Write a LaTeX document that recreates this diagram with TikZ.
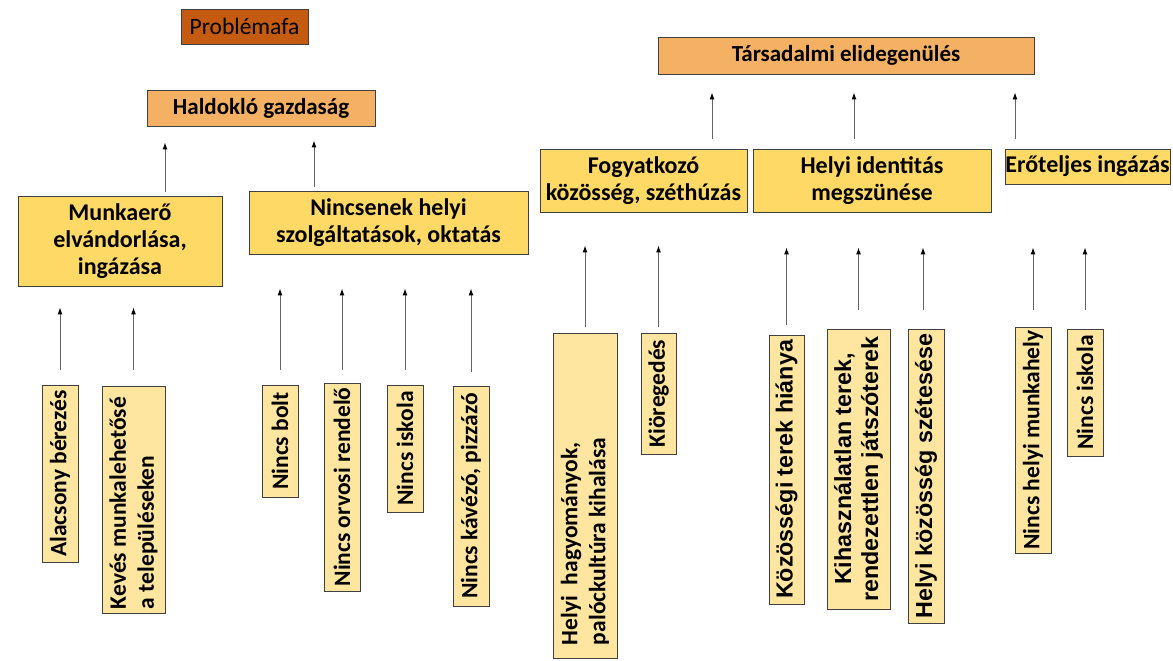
\documentclass[tikz,border=0pt]{standalone}
\usepackage{fontspec}
\setmainfont{Carlito}
\newfontfamily\arialfont{Liberation Sans}
\usetikzlibrary{arrows.meta}
\definecolor{pfbrown}{RGB}{197,90,17}
\definecolor{pforange}{RGB}{244,177,99}
\definecolor{pfgold}{RGB}{255,217,102}
\definecolor{pfcream}{RGB}{255,230,160}
\definecolor{pfedge}{RGB}{64,64,64}
\definecolor{pfline}{RGB}{100,100,100}

\begin{document}
\begin{tikzpicture}[x=1pt,y=-1pt,
  box/.style={draw=pfedge,line width=0.9pt,inner sep=0pt,align=center,
    font=\fontsize{24}{27}\selectfont\bfseries},
  titlebox/.style={box,fill=pfbrown,font=\fontsize{23.5}{26}\selectfont},
  topbox/.style={box,fill=pforange,font=\fontsize{23}{26}\selectfont\bfseries},
  midbox/.style={box,fill=pfgold},
  leafbox/.style={box,fill=pfcream,rotate=90,font=\fontsize{23.5}{28}\selectfont\bfseries},
  arialleaf/.style={leafbox,font=\arialfont\fontsize{23.3}{27}\selectfont\bfseries},
  arr/.style={draw=pfline,line width=1pt,-{Latex[length=7pt,width=5pt,black]}}]
  \useasboundingbox (0,0) rectangle (1173,661);
  % Title
  \node[titlebox,minimum width=127pt,minimum height=35pt] (title) at (244.5,26.5) {Problémafa};
  % Top problems
  \node[topbox,minimum width=228pt,minimum height=36pt] (haldoklo) at (261,108) {Haldokló gazdaság};
  \node[topbox,minimum width=376pt,minimum height=37pt] (tarsad) at (846,55.5) {Társadalmi elidegenülés};
  % Middle causes
  \node[midbox,minimum width=204pt,minimum height=90pt] (munkaero) at (120,241) {Munkaerő\\elvándorlása,\\ingázása};
  \node[midbox,minimum width=279pt,minimum height=63pt] (nincsenek) at (388.5,222.5) {Nincsenek helyi\\szolgáltatások, oktatás};
  \node[midbox,minimum width=207pt,minimum height=63pt] (fogyat) at (643.5,180.5) {Fogyatkozó\\közösség, széthúzás};
  \node[midbox,minimum width=238pt,minimum height=63pt] (identitas) at (872,180.5) {Helyi identitás\\megszünése};
  \node[midbox,minimum width=165pt,minimum height=35pt] (ingazas) at (1087.5,166.5) {Erőteljes ingázás};
  % Root causes (rotated)
  \node[leafbox,minimum width=177pt,minimum height=36pt] (alacsony) at (60,473.5) {Alacsony bérezés};
  \node[leafbox,minimum width=227pt,minimum height=63pt,text width=219pt,align=flush left] (keves) at (133.5,499.5) {Kevés munkalehetősé\\a településeken};
  \node[leafbox,minimum width=112pt,minimum height=36pt] (bolt) at (280,441) {Nincs bolt};
  \node[leafbox,minimum width=208pt,minimum height=36pt] (orvos) at (342,487) {Nincs orvosi rendelő};
  \node[leafbox,minimum width=127pt,minimum height=36pt] (iskola) at (405,448.5) {Nincs iskola};
  \node[leafbox,minimum width=220pt,minimum height=36pt] (kavezo) at (471,496) {Nincs kávézó, pizzázó};
  \node[leafbox,minimum width=325pt,minimum height=64pt,text width=299pt,align=flush left] (hagyomany) at (585,495.5) {Helyi\ \ hagyományok,\\palóckultúra kihalása};
  \node[leafbox,minimum width=121pt,minimum height=35pt] (koreg) at (658.5,393.5) {Kiöregedés};
  \node[arialleaf,minimum width=269pt,minimum height=35pt] (kozter) at (786.5,469.5) {Közösségi terek hiánya};
  \node[arialleaf,minimum width=280pt,minimum height=63pt] (kihasz) at (858.5,469) {Kihasználatlan terek,\\rendezettlen játszóterek};
  \node[arialleaf,minimum width=294pt,minimum height=36pt] (szetes) at (926,476) {Helyi közösség szétesése};
  \node[leafbox,minimum width=226pt,minimum height=36pt] (munkahely) at (1033,440) {Nincs helyi munkahely};
  \node[leafbox,minimum width=127pt,minimum height=36pt] (iskolab) at (1085,392.5) {Nincs iskola};
  % Arrows: root causes to middle causes
  \draw[arr] ([yshift=15pt]alacsony.east) -- ([yshift=-21pt]alacsony.east |- munkaero.south);
  \draw[arr] ([yshift=16pt]keves.east) -- ([yshift=-21pt]keves.east |- munkaero.south);
  \draw[arr] ([yshift=15pt]bolt.east) -- ([yshift=-34pt]bolt.east |- nincsenek.south);
  \draw[arr] ([yshift=13pt]orvos.east) -- ([yshift=-34pt]orvos.east |- nincsenek.south);
  \draw[arr] ([yshift=15pt]iskola.east) -- ([yshift=-34pt]iskola.east |- nincsenek.south);
  \draw[arr] ([yshift=14pt]kavezo.east) -- ([yshift=-34pt]kavezo.east |- nincsenek.south);
  \draw[arr] ([yshift=6pt]hagyomany.east) -- ([yshift=-33pt]hagyomany.east |- fogyat.south);
  \draw[arr] ([yshift=6pt]koreg.east) -- ([yshift=-33pt]koreg.east |- fogyat.south);
  \draw[arr] ([yshift=10pt]kozter.east) -- ([yshift=-35pt]kozter.east |- identitas.south);
  \draw[arr] ([yshift=19pt]kihasz.east) -- ([yshift=-35pt]kihasz.east |- identitas.south);
  \draw[arr] ([xshift=-3pt,yshift=19pt]szetes.east) -- ([xshift=-3pt,yshift=-35pt]szetes.east |- identitas.south);
  \draw[arr] ([yshift=17pt]munkahely.east) -- ([yshift=-63pt]munkahely.east |- ingazas.south);
  \draw[arr] ([yshift=19pt]iskolab.east) -- ([yshift=-63pt]iskolab.east |- ingazas.south);
  % Arrows: middle causes to top problems
  \draw[arr] ([xshift=45pt,yshift=4pt]munkaero.north) -- ([xshift=45pt,yshift=-16pt]munkaero.north |- haldoklo.south);
  \draw[arr] ([xshift=-74.5pt,yshift=4pt]nincsenek.north) -- ([xshift=-74.5pt,yshift=-14pt]nincsenek.north |- haldoklo.south);
  \draw[arr] ([xshift=68.5pt,yshift=10pt]fogyat.north) -- ([xshift=68.5pt,yshift=-18pt]fogyat.north |- tarsad.south);
  \draw[arr] ([xshift=-18pt,yshift=10pt]identitas.north) -- ([xshift=-18pt,yshift=-18pt]identitas.north |- tarsad.south);
  \draw[arr] ([xshift=-72.5pt,yshift=10pt]ingazas.north) -- ([xshift=-72.5pt,yshift=-18pt]ingazas.north |- tarsad.south);
\end{tikzpicture}
\end{document}
